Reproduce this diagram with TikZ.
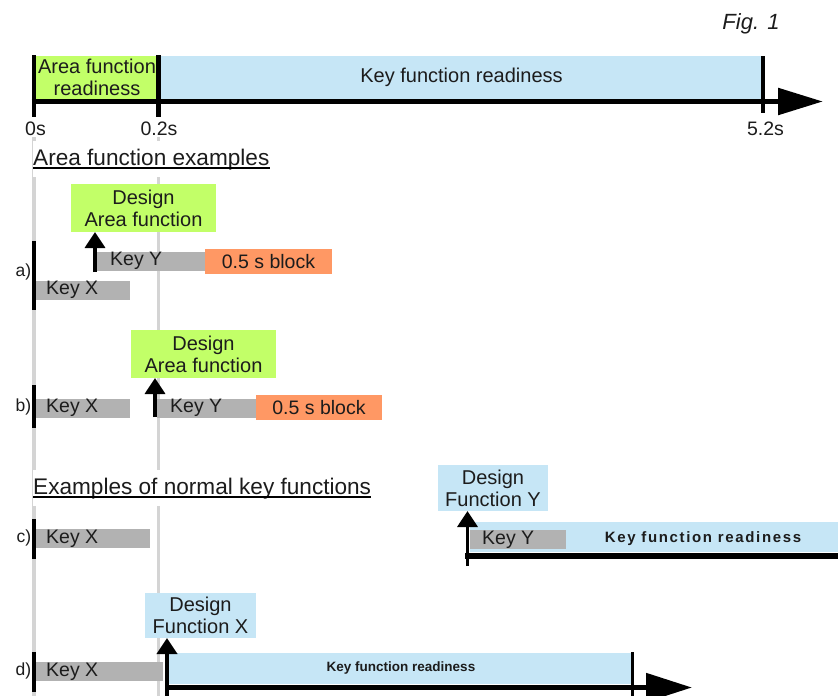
\documentclass[tikz,border=0pt]{standalone}
\usepackage{fontspec}
\setmainfont{Liberation Sans}
\newfontfamily\spacedfont[LetterSpace=11]{Liberation Sans}
\usetikzlibrary{arrows.meta,calc}
\definecolor{agreen}{RGB}{194,255,104}
\definecolor{kblue}{RGB}{198,230,246}
\definecolor{kgray}{RGB}{178,178,178}
\definecolor{korange}{RGB}{255,152,100}
\definecolor{glines}{RGB}{212,212,212}
\definecolor{txt}{RGB}{28,28,28}
\begin{document}
\begin{tikzpicture}[x=1pt,y=-1pt,
  every node/.style={text=txt},
  blk/.style={inner sep=0pt, outer sep=0pt, anchor=north west},
  bodyfont/.style={font=\fontsize{20}{22}\selectfont},
  barfont/.style={font=\fontsize{19.5}{21}\selectfont},
  areabox/.style={blk, fill=agreen, align=center, bodyfont},
  keybox/.style={blk, fill=kblue, align=center, bodyfont},
  graybar/.style={blk, fill=kgray},
  orangebar/.style={blk, fill=korange, barfont},
  bartext/.style={inner sep=0pt, anchor=west, barfont},
  titlefont/.style={font=\fontsize{22.6}{25}\selectfont, fill=white, inner xsep=0pt, inner ysep=7.5pt, anchor=base west},
  rowlabel/.style={font=\fontsize{17.5}{19}\selectfont, inner sep=0pt, anchor=east},
  ticklabel/.style={font=\fontsize{19.5}{21}\selectfont, inner sep=0pt},
  startbar/.style={line width=4pt, draw=black},
  guide/.style={line width=3.5pt, draw=glines},
  uparr/.style={line width=3.5pt, draw=black, -{Triangle[length=16pt,width=20pt]}},
  timearrow/.style={line width=5.5pt, draw=black, -{Triangle[length=45pt,width=26pt]}}
]
\useasboundingbox (0,0) rectangle (838,696);

% guide lines (0 s and 0.2 s)
\coordinate (g0top) at (34,137);
\coordinate (g0bot) at (34,696);
\coordinate (g1top) at (158.5,137);
\coordinate (g1bot) at (158.5,696);
\draw[guide] (g0top) -- (g0bot);
\draw[guide] (g1top) -- (g1bot);

% figure label
\node[font=\fontsize{22}{24}\selectfont\itshape, inner sep=0pt] (fig) at (751,24) {Fig. 1};

% ---------- top time line ----------
\node[areabox, minimum width=122pt, minimum height=43pt] (arearead) at (36,55.5) {Area function\\readiness};
\node[keybox, minimum width=603pt, minimum height=43pt] (keyread) at (160,55.5) {Key function readiness};
\coordinate (t0) at (31.5,101.5);
\coordinate (tend) at (823,101.5);
\draw[timearrow] (t0) -- (tend);
\coordinate (k0a) at (34,55);   \coordinate (k0b) at (34,117);
\coordinate (k1a) at (158.5,55); \coordinate (k1b) at (158.5,117);
\coordinate (k2a) at (763,56);  \coordinate (k2b) at (763,113);
\draw[line width=4.5pt] (k0a) -- (k0b);
\draw[line width=5pt] (k1a) -- (k1b);
\draw[line width=4pt] (k2a) -- (k2b);
\node[ticklabel] (l0) at (35.5,128.5) {0s};
\node[ticklabel] (l1) at (159,128.5) {0.2s};
\node[ticklabel] (l2) at (765.5,128.5) {5.2s};

% ---------- Area function examples ----------
\node[titlefont] (title1) at (33,165) {Area function examples};
\draw[line width=1.6pt] ([yshift=-3pt]title1.base west) -- ([yshift=-3pt]title1.base east);

% a)
\coordinate (sa0) at (34,241); \coordinate (sa1) at (34,310);
\draw[startbar] (sa0) -- (sa1);
\node[rowlabel] (la) at (31.5,272) {a)};
\node[graybar, minimum width=94pt, minimum height=18.5pt] (kxa) at (36,281) {};
\node[bartext] (kxat) at ([xshift=10pt]kxa.west) {Key X};
\node[graybar, minimum width=108pt, minimum height=18.5pt] (kya) at (97,252) {};
\node[bartext] (kyat) at ([xshift=13pt]kya.west) {Key Y};
\node[orangebar, minimum width=127pt, minimum height=25pt] (bla) at (205,249) {0.5 s block};
\node[areabox, minimum width=145pt, minimum height=48pt] (da) at (71,184) {Design\\Area function};
\coordinate (arra) at (95,272);
\draw[uparr] (arra) -- (arra |- da.south);

% b)
\coordinate (sb0) at (34,385); \coordinate (sb1) at (34,428);
\draw[startbar] (sb0) -- (sb1);
\node[rowlabel] (lb) at (31.5,407) {b)};
\node[graybar, minimum width=94pt, minimum height=18.5pt] (kxb) at (36,399) {};
\node[bartext] (kxbt) at ([xshift=10pt]kxb.west) {Key X};
\node[graybar, minimum width=99pt, minimum height=18.5pt] (kyb) at (157,399) {};
\node[bartext] (kybt) at ([xshift=13pt]kyb.west) {Key Y};
\node[orangebar, minimum width=126pt, minimum height=25pt] (blb) at (256,395) {0.5 s block};
\node[areabox, minimum width=145pt, minimum height=48pt] (db) at (131,330) {Design\\Area function};
\coordinate (arrb) at (155,417);
\draw[uparr] (arrb) -- (arrb |- db.south);

% ---------- Examples of normal key functions ----------
\node[titlefont] (title2) at (33,494) {Examples of normal key functions};
\draw[line width=1.6pt] ([yshift=-3pt]title2.base west) -- ([yshift=-3pt]title2.base east);

% c)
\coordinate (sc0) at (34,519); \coordinate (sc1) at (34,559);
\draw[startbar] (sc0) -- (sc1);
\node[rowlabel] (lc) at (31.5,538) {c)};
\node[graybar, minimum width=114pt, minimum height=19pt] (kxc) at (36,529) {};
\node[bartext] (kxct) at ([xshift=10pt]kxc.west) {Key X};
\node[blk, fill=kblue, minimum width=368pt, minimum height=30pt] (krc) at (470,522) {};
\node[inner sep=0pt, font=\fontsize{15}{17}\selectfont\spacedfont\bfseries] (krct) at (703,538.5) {Key function readiness};
\node[graybar, minimum width=96pt, minimum height=19pt] (kyc) at (470,530) {};
\node[bartext] (kyct) at ([xshift=12pt]kyc.west) {Key Y};
\node[keybox, minimum width=110pt, minimum height=46pt] (dc) at (438,465) {Design\\Function Y};
\coordinate (hc0) at (465,555.5); \coordinate (hc1) at (838,555.5);
\draw[line width=6pt] (hc0) -- (hc1);
\coordinate (arrc) at (467.5,566);
\draw[uparr] (arrc) -- (arrc |- dc.south);

% d)
\coordinate (sd0) at (34,652); \coordinate (sd1) at (34,692);
\draw[startbar] (sd0) -- (sd1);
\node[rowlabel] (ld) at (31.5,671) {d)};
\node[graybar, minimum width=127pt, minimum height=19pt] (kxd) at (36,662) {};
\node[bartext] (kxdt) at ([xshift=10pt]kxd.west) {Key X};
\node[blk, fill=kblue, minimum width=463pt, minimum height=31pt] (krd) at (169,653) {};
\node[inner sep=0pt, font=\fontsize{13.5}{15}\selectfont\bfseries] (krdt) at (401,668.5) {Key function readiness};
\node[keybox, minimum width=111pt, minimum height=45pt] (dd) at (145,593) {Design\\Function X};
\coordinate (hd0) at (165,687.5); \coordinate (hd1) at (692,687.5);
\draw[timearrow, line width=5pt, -{Triangle[length=46pt,width=28pt]}] (hd0) -- (hd1);
\coordinate (kd2a) at (632,652); \coordinate (kd2b) at (632,696);
\draw[line width=3pt] (kd2a) -- (kd2b);
\coordinate (arrd) at (167,696);
\draw[uparr, line width=4pt] (arrd) -- (arrd |- dd.south);
\end{tikzpicture}
\end{document}
